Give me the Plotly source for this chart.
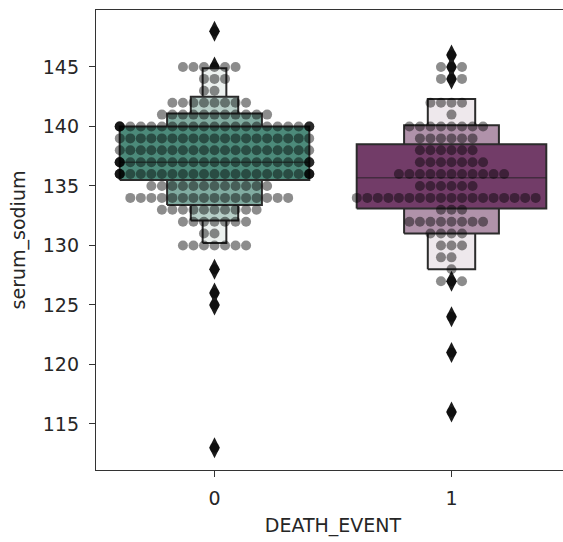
import plotly.graph_objects as go

# ---------------- data ----------------
categories = ["0", "1"]

# swarm rows: serum_sodium value and number of patients at that value
sodium_values_0 = [148, 145, 144, 143, 142, 141, 140, 139, 138, 137, 136, 135, 134, 133, 132, 131, 130, 128, 126, 125, 113]
sodium_counts_0 = [1, 6, 3, 2, 8, 11, 24, 19, 19, 24, 25, 12, 16, 10, 7, 2, 7, 1, 1, 1, 1]

sodium_values_1 = [146, 145, 144, 142, 141, 140, 139, 138, 137, 136, 135, 134, 133, 132, 131, 130, 129, 128, 127, 124, 121, 116]
sodium_counts_1 = [1, 3, 3, 4, 1, 8, 6, 6, 7, 11, 6, 18, 3, 8, 4, 3, 2, 1, 3, 1, 1, 1]

# boxen (letter-value) levels, innermost first
box_low_0 = [135.5, 133.4, 132.1, 130.2]
box_high_0 = [140.0, 141.1, 142.5, 144.9]
box_low_1 = [133.1, 131.0, 128.0]
box_high_1 = [138.5, 140.1, 142.3]
medians = [137.0, 135.7]

outliers_0 = [148, 145, 128, 126, 125, 113]
outliers_1 = [146, 145, 144, 127, 124, 121, 116]

y_ticks = [115, 120, 125, 130, 135, 140, 145]

# ---------------- style ----------------
LEVEL_WIDTHS = [0.8, 0.4, 0.2, 0.1]
BASE_COLORS = [(76, 138, 122), (114, 60, 104)]
LIGHT_COLORS = [(236, 241, 239), (238, 232, 236)]
DOT_SPACING = 0.0444
HALF_WIDTH = 0.4
EDGE = "#2b2b2b"
FONT = dict(family="DejaVu Sans", size=19, color="#262626")


def level_colors(base, light, k):
    cols = []
    for i in range(k):
        t = i / (k - 1) if k > 1 else 0
        c = tuple(round(base[j] * (1 - t) + light[j] * t) for j in range(3))
        cols.append("rgb(%d,%d,%d)" % c)
    return cols


def swarm(values, counts, center):
    xs, ys = [], []
    for v, n in zip(values, counts):
        for i in range(n):
            k = (i + 1) // 2
            sign = -1 if i % 2 == 1 else 1
            off = sign * k * DOT_SPACING
            off = max(-HALF_WIDTH, min(HALF_WIDTH, off))
            xs.append(center + off)
            ys.append(v)
    return xs, ys


fig = go.Figure()

groups = [
    (0, box_low_0, box_high_0, outliers_0, sodium_values_0, sodium_counts_0),
    (1, box_low_1, box_high_1, outliers_1, sodium_values_1, sodium_counts_1),
]

# outliers (drawn first, boxes may cover them)
for gi, (center, lo, hi, outl, vals, cnts) in enumerate(groups):
    fig.add_trace(go.Scatter(
        x=[center] * len(outl), y=outl, mode="markers",
        marker=dict(symbol="diamond-tall", size=15, color="#1c1c1c", line=dict(width=0)),
        hoverinfo="skip", showlegend=False))

# boxes: outermost level first so inner levels sit on top
for gi, (center, lo, hi, outl, vals, cnts) in enumerate(groups):
    k = len(lo)
    cols = level_colors(BASE_COLORS[gi], LIGHT_COLORS[gi], k)
    for lvl in reversed(range(k)):
        w = LEVEL_WIDTHS[lvl] / 2
        fig.add_trace(go.Scatter(
            x=[center - w, center + w, center + w, center - w, center - w],
            y=[lo[lvl], lo[lvl], hi[lvl], hi[lvl], lo[lvl]],
            mode="lines", fill="toself", fillcolor=cols[lvl],
            line=dict(color=EDGE, width=2), hoverinfo="skip", showlegend=False))
    # median line
    w = LEVEL_WIDTHS[0] / 2
    fig.add_trace(go.Scatter(
        x=[center - w, center + w], y=[medians[gi], medians[gi]], mode="lines",
        line=dict(color="rgba(30,30,30,0.55)", width=1.5),
        hoverinfo="skip", showlegend=False))

# swarm points on top
for gi, (center, lo, hi, outl, vals, cnts) in enumerate(groups):
    xs, ys = swarm(vals, cnts, center)
    fig.add_trace(go.Scatter(
        x=xs, y=ys, mode="markers",
        marker=dict(size=10, color="rgba(0,0,0,0.45)", line=dict(width=0)),
        hoverinfo="skip", showlegend=False))

axis_common = dict(
    showline=True, linecolor="#333333", linewidth=1.3,
    ticks="outside", ticklen=6, tickwidth=1.3, tickcolor="#333333",
    showgrid=False, zeroline=False, tickfont=FONT,
)

# the original axes run a few pixels past the right edge of the picture;
# the figure is made slightly wider and the page crops it
fig.update_layout(
    width=570, height=542,
    margin=dict(l=96, r=0, t=10, b=72),
    plot_bgcolor="white", paper_bgcolor="white",
    hovermode=False,
    xaxis=dict(range=[-0.5, 1.5], tickvals=[0, 1], ticktext=categories,
               mirror=True, ticklabelstandoff=5,
               title=dict(text="DEATH_EVENT", font=FONT, standoff=10),
               automargin=False, **axis_common),
    yaxis=dict(range=[111.13, 149.79], tickvals=y_ticks,
               ticklabelstandoff=6,
               title=dict(text="serum_sodium", font=FONT, standoff=12),
               automargin=False, **axis_common),
)

fig.write_html(
    "out.html",
    config={"displayModeBar": False},
    post_script="document.body.style.margin='0px';document.body.style.overflow='hidden';",
)
